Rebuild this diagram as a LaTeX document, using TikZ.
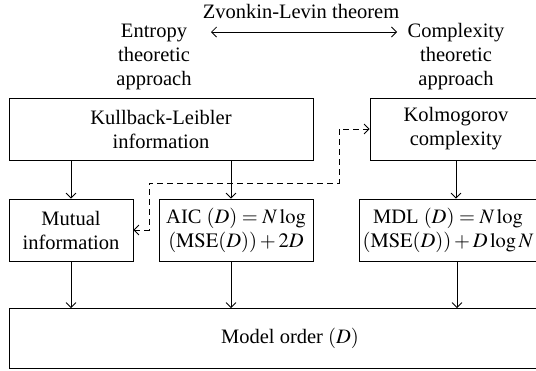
\documentclass[tikz,border=0pt]{standalone}
\usepackage{mathptmx}
\usepackage{fontspec}
\setmainfont{Liberation Serif}
\usetikzlibrary{arrows.meta}
\usetikzlibrary{positioning}

\begin{document}
\begin{tikzpicture}[x=1pt, y=-1pt, font=\fontsize{20.5}{24}\selectfont,
    >={Straight Barb[length=5pt,width=10pt]},
    box/.style={draw, line width=0.8pt, align=center, inner sep=0pt, minimum height=62pt},
    head/.style={align=center, inner sep=0pt},
    flow/.style={->, line width=0.8pt},
    link/.style={<->, line width=0.8pt, dash pattern=on 6pt off 4pt}]
    \useasboundingbox (0,0) rectangle (536,370);
    \clip (0,0) rectangle (536,370);

    % Headings
    \node[head] (zv) at (301,11) {Zvonkin-Levin theorem};
    \node[head] (ent) at (154,57) {Entropy\\theoretic\\approach};
    \node[head] (cpx) at (456,57) {Complexity\\theoretic\\approach};
    \coordinate (zl) at (211,32);
    \coordinate (zr) at (397,32);
    \draw[<->, line width=0.8pt] (zl) -- (zr);

    % Top row
    \node[box, minimum width=304pt] (kl) at (161,129) {Kullback-Leibler\\information};
    \node[box, minimum width=172pt] (kol) at (456,129) {Kolmogorov\\complexity};

    % Middle row
    \node[box, minimum width=124pt] (mut) at (71,230) {Mutual\\information};
    \node[box, minimum width=154pt] (aic) at (236,230) {AIC $(D) = N\log$\\$(\mathrm{MSE}(D)) + 2D$};
    \node[box, minimum width=178pt] (mdl) at (448,230) {MDL $(D) = N\log$\\$(\mathrm{MSE}(D)) + D\log N$};

    % Bottom
    \node[box, minimum width=562pt, minimum height=60pt] (mo) at (290,338.5) {Model order $(D)$};

    % Arrows
    \draw[flow] (mut.north |- kl.south) -- (mut.north);
    \draw[flow] ([xshift=70pt]kl.south) -- ([xshift=-5pt]aic.north);
    \draw[flow] (kol.south) -- (kol.south |- mdl.north);
    \draw[flow] (mut.south) -- (mut.south |- mo.north);
    \draw[flow] ([xshift=-5pt]aic.south) -- ([xshift=-5pt]aic.south |- mo.north);
    \draw[flow] ([xshift=9pt]mdl.south) -- ([xshift=9pt]mdl.south |- mo.north);

    % Dashed link
    \coordinate (dl) at (149,183);
    \coordinate (dr) at (339,183);
    \draw[link] (mut.east) -| (dl) -- (dr) |- (kol.west);
\end{tikzpicture}
\end{document}
